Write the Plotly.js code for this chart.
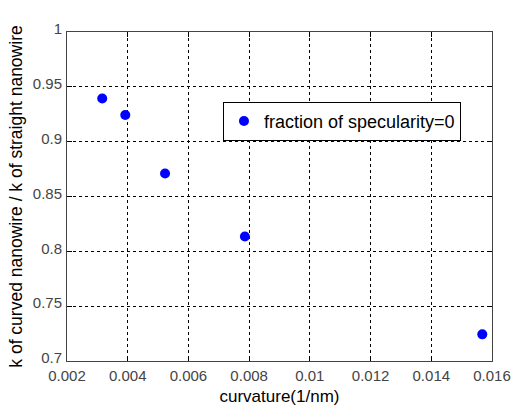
<!DOCTYPE html>
<html><head><meta charset="utf-8">
<script src="https://cdn.plot.ly/plotly-3.0.1.min.js"></script>
<style>html,body{margin:0;padding:0;background:#fff}#c{width:512px;height:408px}</style>
</head><body><div id="c"></div>
<script>
const curvature = [0.00316, 0.00392, 0.00523, 0.00786, 0.01568];
const kRatio = [0.9394, 0.9243, 0.871, 0.8136, 0.7243];
const seriesName = "fraction of specularity=0";
const xTicks = [0.002,0.004,0.006,0.008,0.01,0.012,0.014,0.016];
const xTickText = ["0.002","0.004","0.006","0.008","0.01","0.012","0.014","0.016"];
const yTicks = [0.7,0.75,0.8,0.85,0.9,0.95,1];
const yTickText = ["0.7","0.75","0.8","0.85","0.9","0.95","1"];

const fam = "Liberation Sans, Arial, sans-serif";
const axBase = {
  showline: true, linecolor: "#444", linewidth: 1, mirror: "ticks",
  ticks: "inside", ticklen: 5, tickcolor: "#000",
  showgrid: true, gridcolor: "#000", gridwidth: 1, griddash: "3px,3px",
  zeroline: false, tickfont: {family: fam, size: 15, color: "#444"}
};
Plotly.newPlot("c", [{
  x: curvature, y: kRatio, type: "scatter", mode: "markers", name: seriesName,
  marker: {color: "#0000ff", size: 10}
}], {
  width: 512, height: 408,
  margin: {l: 67, r: 20, t: 32, b: 47},
  paper_bgcolor: "#fff", plot_bgcolor: "#fff",
  font: {family: fam, size: 15, color: "#000"},
  showlegend: true,
  legend: {x: 0.367, y: 0.788, xanchor: "left", yanchor: "top",
    bordercolor: "#000", borderwidth: 1, bgcolor: "#fff",
    font: {family: fam, size: 18, color: "#000"}},
  xaxis: Object.assign({}, axBase, {range: [0.002, 0.016], tickvals: xTicks, ticktext: xTickText,
    ticklabelstandoff: 1,
    title: {text: "curvature(1/nm)", font: {family: fam, size: 17, color: "#000"}, standoff: 7}}),
  yaxis: Object.assign({}, axBase, {range: [0.7, 1], tickvals: yTicks, ticktext: yTickText,
    ticklabelshift: -3, ticklabelstandoff: 1,
    title: {text: "k of curved nanowire / k of straight nanowire", font: {family: fam, size: 17.5, color: "#000"}, standoff: 5}})
}, {displayModeBar: false});
</script></body></html>
